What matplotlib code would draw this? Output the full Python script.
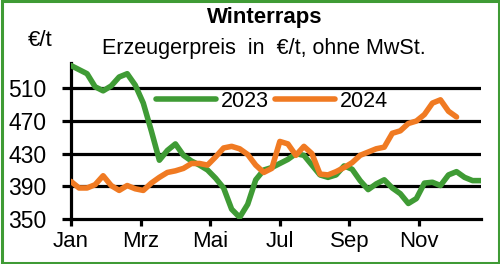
import matplotlib
matplotlib.use("Agg")
import matplotlib.pyplot as plt
from matplotlib.patches import Rectangle

plt.rcParams["font.family"] = ["Liberation Sans Narrow", "Liberation Sans", "DejaVu Sans"]

MONTHS = ["Jan", "Mrz", "Mai", "Jul", "Sep", "Nov"]
YTICKS = [350, 390, 430, 470, 510]

# weekly producer prices, EUR/t
PRICE_2023 = [538, 533, 528, 512, 507, 513, 524, 528, 514, 492,
              458, 422, 434, 442, 428, 421, 416, 410, 400, 388,
              362, 352, 368, 398, 410, 413, 418, 423, 430, 428,
              416, 404, 401, 404, 415, 411, 397, 386, 393, 398,
              388, 381, 369, 375, 394, 395, 391, 404, 408, 401,
              397, 397]
PRICE_2024 = [396, 388, 388, 392, 403, 391, 385, 391, 387, 385,
              394, 401, 407, 409, 412, 418, 418, 416, 426, 437,
              439, 436, 429, 416, 407, 412, 445, 442, 428, 439,
              430, 405, 404, 408, 413, 419, 428, 432, 436, 438,
              455, 458, 467, 470, 478, 492, 496, 482, 475]

GREEN = "#3f9b35"
ORANGE = "#f07a22"

fig = plt.figure(figsize=(5.0, 2.64), dpi=100)
ax = fig.add_axes([0.142, 0.1705, 0.820, 0.5905])

x23 = [k * 12 / 52 for k in range(len(PRICE_2023))]
x24 = [k * 12 / 52 for k in range(len(PRICE_2024))]
ax.plot(x23, PRICE_2023, color=GREEN, lw=4.0, solid_capstyle="round",
        solid_joinstyle="round", label="2023", zorder=3)
ax.plot(x24, PRICE_2024, color=ORANGE, lw=4.0, solid_capstyle="round",
        solid_joinstyle="round", label="2024", zorder=3)

ax.set_xlim(0, 11.78)
ax.set_ylim(350, 541)
ax.set_yticks(YTICKS)
ax.set_xticks(range(0, 12, 2))
ax.set_xticklabels(MONTHS)
for v in YTICKS[1:]:
    ax.axhline(v, color="black", lw=2.3, zorder=1)

for s in ["top", "right"]:
    ax.spines[s].set_visible(False)
ax.spines["left"].set_linewidth(2.3)
ax.spines["bottom"].set_linewidth(2.3)
ax.tick_params(axis="y", length=6.5, width=2.3, pad=11, labelsize=16.5)
ax.tick_params(axis="x", length=5, width=2.3, pad=4, labelsize=16)

ax.legend(loc="center left", bbox_to_anchor=(0.312, 0.617), bbox_transform=fig.transFigure,
          ncol=2, frameon=False, fontsize=15.5, handlelength=2.8, handletextpad=0.2,
          columnspacing=0.3, borderaxespad=0, borderpad=0)

fig.text(0.53, 0.935, "Winterraps", ha="center", va="center", fontsize=16, fontweight="bold")
fig.text(0.528, 0.818, "Erzeugerpreis  in  €/t, ohne MwSt.", ha="center", va="center", fontsize=15.5)
fig.text(0.08, 0.848, "€/t", ha="center", va="center", fontsize=16)

fig.patches.append(Rectangle((0.003, 0.005), 0.994, 0.99, transform=fig.transFigure,
                             fill=False, edgecolor=GREEN, lw=2.2))

fig.savefig("out.png", dpi=100)
